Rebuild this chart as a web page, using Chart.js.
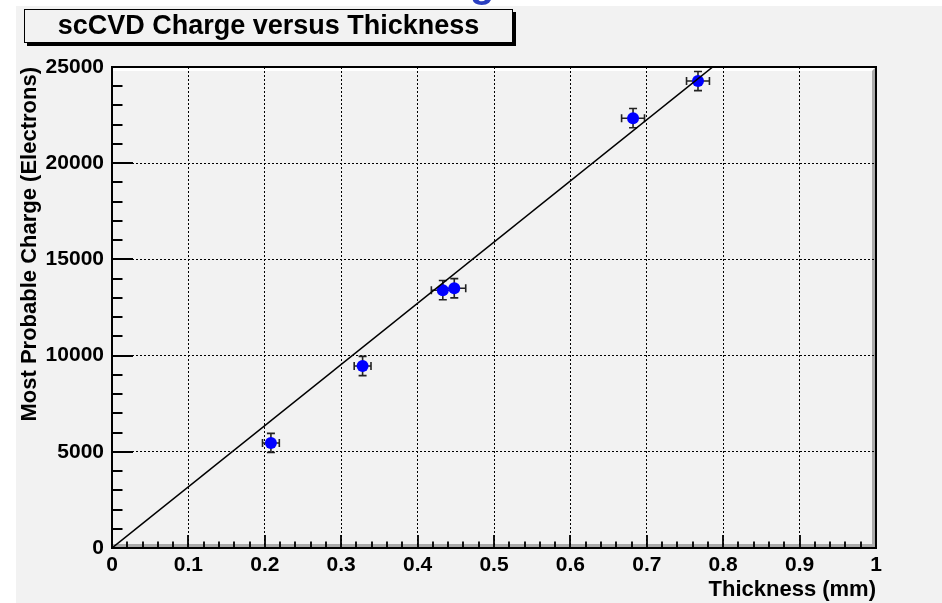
<!DOCTYPE html>
<html>
<head>
<meta charset="utf-8">
<script src="https://cdn.jsdelivr.net/npm/chart.js@4.4.0/dist/chart.umd.min.js"></script>
<style>
  html, body { margin: 0; padding: 0; background: #fff; }
  #chart { display: block; }
</style>
</head>
<body>
<canvas id="chart" width="942" height="603"></canvas>
<script>
// measured points: thickness (mm) vs most probable charge (electrons)
let thickness = [0.208, 0.328, 0.433, 0.448, 0.682, 0.767];
let charge = [5460, 9460, 13400, 13500, 22340, 24270];
let thicknessErr = [0.011, 0.011, 0.015, 0.015, 0.015, 0.015];
let chargeErr = [500, 500, 500, 500, 500, 500];

// straight line fit through the origin
let fitX = [0, 1];
let fitY = [0, 31800];

let xTicks = [0, 0.1, 0.2, 0.3, 0.4, 0.5, 0.6, 0.7, 0.8, 0.9, 1];
let yTicks = [0, 5000, 10000, 15000, 20000, 25000];
let xMinorStep = 0.02;
let yMinorStep = 1000;

let titleText = "scCVD Charge versus Thickness";
let xTitle = "Thickness (mm)";
let yTitle = "Most Probable Charge (Electrons)";

let fontFamily = "'Liberation Sans', Arial, Helvetica, sans-serif";
let bgColor = "#f2f2f2";

let points = thickness.map((t, i) => ({x: t, y: charge[i]}));
let fitPoints = fitX.map((t, i) => ({x: t, y: fitY[i]}));

// canvas backdrop, title box and raised frame
let rootPad = {
    id: "rootPad",
    beforeDraw(chart) {
        let ctx = chart.ctx;
        let a = chart.chartArea;
        ctx.save();
        ctx.fillStyle = "#fff";
        ctx.fillRect(0, 0, chart.width, chart.height);

        // tail of the slide heading above the pad
        ctx.fillStyle = "#2a3fc0";
        ctx.font = "bold 40px " + fontFamily;
        ctx.textBaseline = "alphabetic";
        ctx.fillText("g", 470, -3);

        ctx.fillStyle = bgColor;
        ctx.fillRect(16, 6, chart.width - 16, chart.height - 6);

        // title box with shadow
        ctx.fillStyle = "#000";
        ctx.fillRect(27, 12, 489, 34);
        ctx.fillStyle = bgColor;
        ctx.fillRect(24, 9, 489, 34);
        ctx.strokeStyle = "#000";
        ctx.lineWidth = 1;
        ctx.strokeRect(24.5, 9.5, 488, 33);
        ctx.fillStyle = "#000";
        ctx.font = "bold 27px " + fontFamily;
        ctx.textAlign = "center";
        ctx.textBaseline = "middle";
        ctx.fillText(titleText, 268.5, 27);

        // bevel: light top, dark right and bottom
        let b = 4;
        ctx.fillStyle = "#fff";
        ctx.beginPath();
        ctx.moveTo(a.left, a.top);
        ctx.lineTo(a.right, a.top);
        ctx.lineTo(a.right - b, a.top + b);
        ctx.lineTo(a.left, a.top + b);
        ctx.fill();
        ctx.fillStyle = "#aaaaaa";
        ctx.beginPath();
        ctx.moveTo(a.right, a.top);
        ctx.lineTo(a.right, a.bottom);
        ctx.lineTo(a.left, a.bottom);
        ctx.lineTo(a.left, a.bottom - b);
        ctx.lineTo(a.right - b, a.bottom - b);
        ctx.lineTo(a.right - b, a.top + b);
        ctx.fill();
        ctx.restore();
    },
    beforeDatasetsDraw(chart) {
        // error bars with end caps, under the markers
        let ctx = chart.ctx;
        let xs = chart.scales.x;
        let ys = chart.scales.y;
        let cap = 4;
        ctx.save();
        ctx.strokeStyle = "#222";
        ctx.lineWidth = 1.6;
        thickness.forEach((t, i) => {
            let px = xs.getPixelForValue(t);
            let py = ys.getPixelForValue(charge[i]);
            let x0 = xs.getPixelForValue(t - thicknessErr[i]);
            let x1 = xs.getPixelForValue(t + thicknessErr[i]);
            let y0 = ys.getPixelForValue(charge[i] - chargeErr[i]);
            let y1 = ys.getPixelForValue(charge[i] + chargeErr[i]);
            ctx.beginPath();
            ctx.moveTo(x0, py); ctx.lineTo(x1, py);
            ctx.moveTo(x0, py - cap); ctx.lineTo(x0, py + cap);
            ctx.moveTo(x1, py - cap); ctx.lineTo(x1, py + cap);
            ctx.moveTo(px, y0); ctx.lineTo(px, y1);
            ctx.moveTo(px - cap, y0); ctx.lineTo(px + cap, y0);
            ctx.moveTo(px - cap, y1); ctx.lineTo(px + cap, y1);
            ctx.stroke();
        });
        ctx.restore();
    },
    afterDraw(chart) {
        let ctx = chart.ctx;
        let a = chart.chartArea;
        let xs = chart.scales.x;
        let ys = chart.scales.y;
        ctx.save();
        ctx.strokeStyle = "#000";
        ctx.lineWidth = 2;
        ctx.strokeRect(a.left, a.top, a.right - a.left, a.bottom - a.top);

        // tick marks pointing into the frame
        ctx.lineWidth = 1.8;
        ctx.beginPath();
        for (let v = xs.min; v <= xs.max + 1e-9; v += xMinorStep) {
            let major = Math.abs(v * 10 - Math.round(v * 10)) < 1e-6;
            let px = Math.round(xs.getPixelForValue(v));
            ctx.moveTo(px, a.bottom);
            ctx.lineTo(px, a.bottom - (major ? 13 : 6.5));
        }
        for (let v = ys.min; v <= ys.max + 1e-9; v += yMinorStep) {
            let major = v % 5000 === 0;
            let py = Math.round(ys.getPixelForValue(v));
            ctx.moveTo(a.left, py);
            ctx.lineTo(a.left + (major ? 21 : 10.5), py);
        }
        ctx.stroke();
        ctx.restore();
    }
};

let tickFont = {family: fontFamily, size: 21, weight: "bold"};
let titleFont = {family: fontFamily, size: 22, weight: "bold", lineHeight: 1.2};

let cfg = {
    type: "scatter",
    data: {
        datasets: [{
            label: "fit",
            data: fitPoints,
            showLine: true,
            borderColor: "#000",
            borderWidth: 1.5,
            pointRadius: 0,
            order: 0
        },
        {
            label: "scCVD",
            data: points,
            backgroundColor: "#0000ff",
            borderWidth: 0,
            pointRadius: 6,
            order: 1
        }]
    },
    options: {
        responsive: false,
        devicePixelRatio: 1,
        animation: false,
        layout: {
            padding: {left: 0, right: 66, top: 67, bottom: 0}
        },
        plugins: {
            legend: {display: false},
            tooltip: {enabled: false}
        },
        scales: {
            x: {
                type: "linear",
                min: 0,
                max: 1,
                afterBuildTicks: s => { s.ticks = xTicks.map(v => ({value: v})); },
                afterFit: s => { s.height = 55; },
                ticks: {
                    color: "#000",
                    font: tickFont,
                    padding: 5,
                    maxRotation: 0,
                    autoSkip: false,
                    callback: v => String(+v.toFixed(1))
                },
                grid: {
                    color: "#000",
                    lineWidth: 1,
                    drawTicks: false
                },
                border: {display: false, dash: [2, 2]},
                title: {
                    display: true,
                    text: xTitle,
                    align: "end",
                    color: "#000",
                    font: titleFont,
                    padding: 0
                }
            },
            y: {
                type: "linear",
                min: 0,
                max: 25000,
                afterBuildTicks: s => { s.ticks = yTicks.map(v => ({value: v})); },
                afterFit: s => { s.width = 112; },
                ticks: {
                    color: "#000",
                    font: tickFont,
                    padding: 8,
                    autoSkip: false,
                    callback: v => String(v)
                },
                grid: {
                    color: "#000",
                    lineWidth: 1,
                    drawTicks: false
                },
                border: {display: false, dash: [2, 2]},
                title: {
                    display: true,
                    text: yTitle,
                    align: "end",
                    color: "#000",
                    font: titleFont,
                    padding: {top: 17, bottom: 0}
                }
            }
        }
    },
    plugins: [rootPad]
};

let chart = new Chart(document.getElementById("chart"), cfg);
</script>
</body>
</html>
